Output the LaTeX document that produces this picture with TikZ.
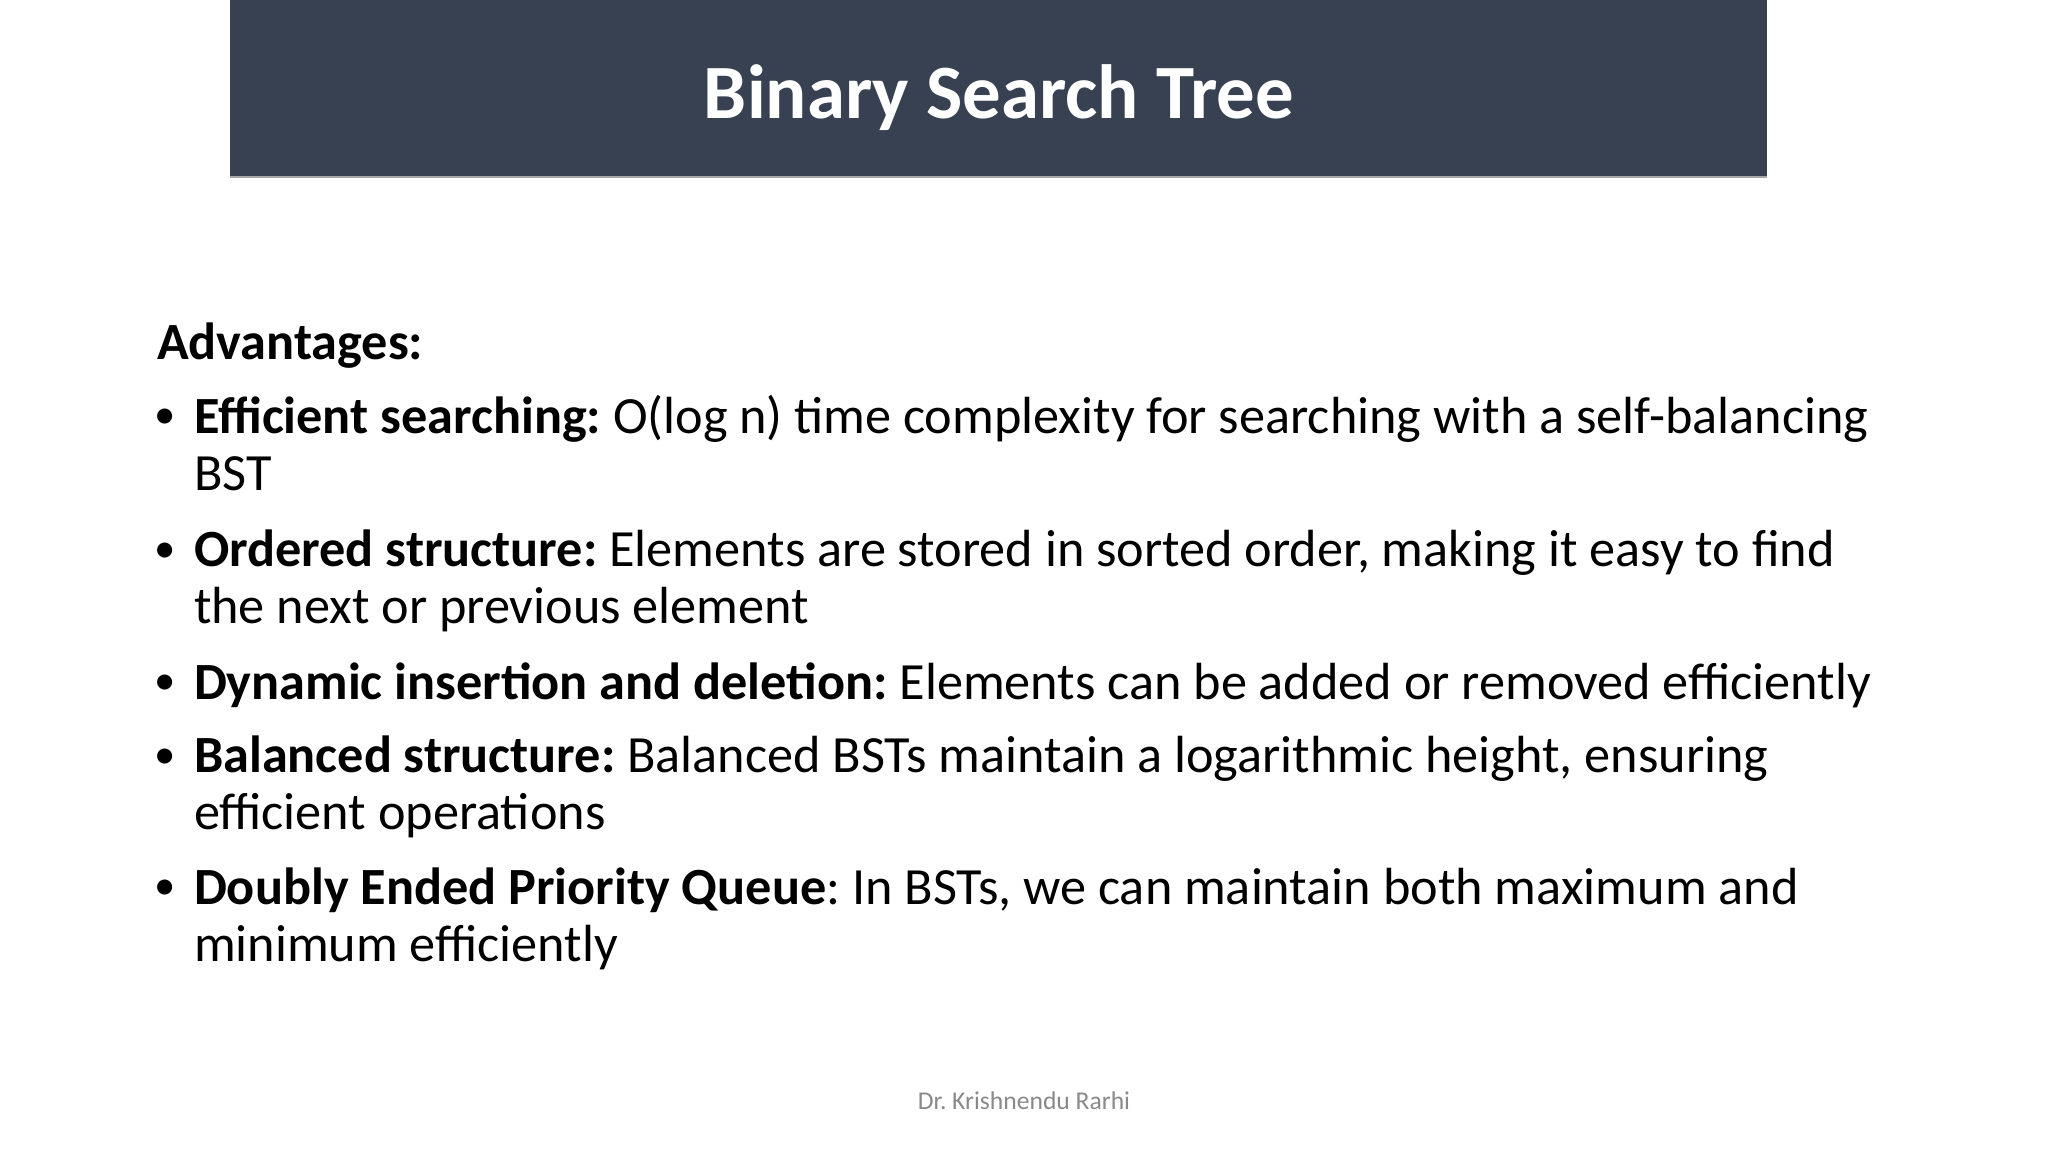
\documentclass[tikz,border=0pt]{standalone}
\usepackage{fontspec}
\setmainfont{Carlito}
\usetikzlibrary{positioning}
\definecolor{titlebar}{RGB}{55,65,81}
\definecolor{footgray}{RGB}{137,137,137}
\frenchspacing

\begin{document}
\begin{tikzpicture}[
    x = 0.46875pt, % one unit = one pixel of the slide
    y = -0.46875pt, % y runs downwards
    inner sep = 0pt,
    outer sep = 0pt
    ]

    \tikzset{
    heading/.style = {anchor=base, text=white, font=\fontsize{36}{43}\selectfont\bfseries},
    item/.style = {anchor=base west, align=left, font=\fontsize{24.5}{26.5}\selectfont},
    dot/.style = {anchor=base, font=\fontsize{20}{24}\selectfont},
    footer/.style = {anchor=base, text=footgray, font=\fontsize{12}{14}\selectfont}
    }

    \useasboundingbox (0,0) rectangle (2048,1152);
    \fill[white] (0,0) rectangle (2048,1152);
    \fill[titlebar] (230,0) rectangle (1767,177);
    \draw[gray!70, line width=0.8pt] (230,177) -- (1767,177);

    \node[heading] (title) at (999,119) {Binary Search Tree};

    \node[item] (adv) at (157,359) {\textbf{Advantages:}};

    % multi-line nodes sit on the baseline of their last line
    \node[item] (search) at (194,490) {\textbf{Efficient searching:} O(log n) time complexity for searching with a self-balancing\\BST};
    \node[item] (order) at (194,623) {\textbf{Ordered structure:} Elements are stored in sorted order, making it easy to find\\the next or previous element};
    \node[item] (dyn) at (194,699) {\textbf{Dynamic insertion and deletion:} Elements can be added or removed efficiently};
    \node[item] (bal) at (194,829) {\textbf{Balanced structure:} Balanced BSTs maintain a logarithmic height, ensuring\\efficient operations};
    \node[item] (deque) at (194,961) {\textbf{Doubly Ended Priority Queue}: In BSTs, we can maintain both maximum and\\minimum efficiently};

    \node[dot] (d1) at (165,428) {\textbullet};
    \node[dot] (d2) at (165,562) {\textbullet};
    \node[dot] (d3) at (165,694) {\textbullet};
    \node[dot] (d4) at (165,768) {\textbullet};
    \node[dot] (d5) at (165,899) {\textbullet};

    \node[footer] (author) at (1024,1109) {Dr. Krishnendu Rarhi};
\end{tikzpicture}
\end{document}
